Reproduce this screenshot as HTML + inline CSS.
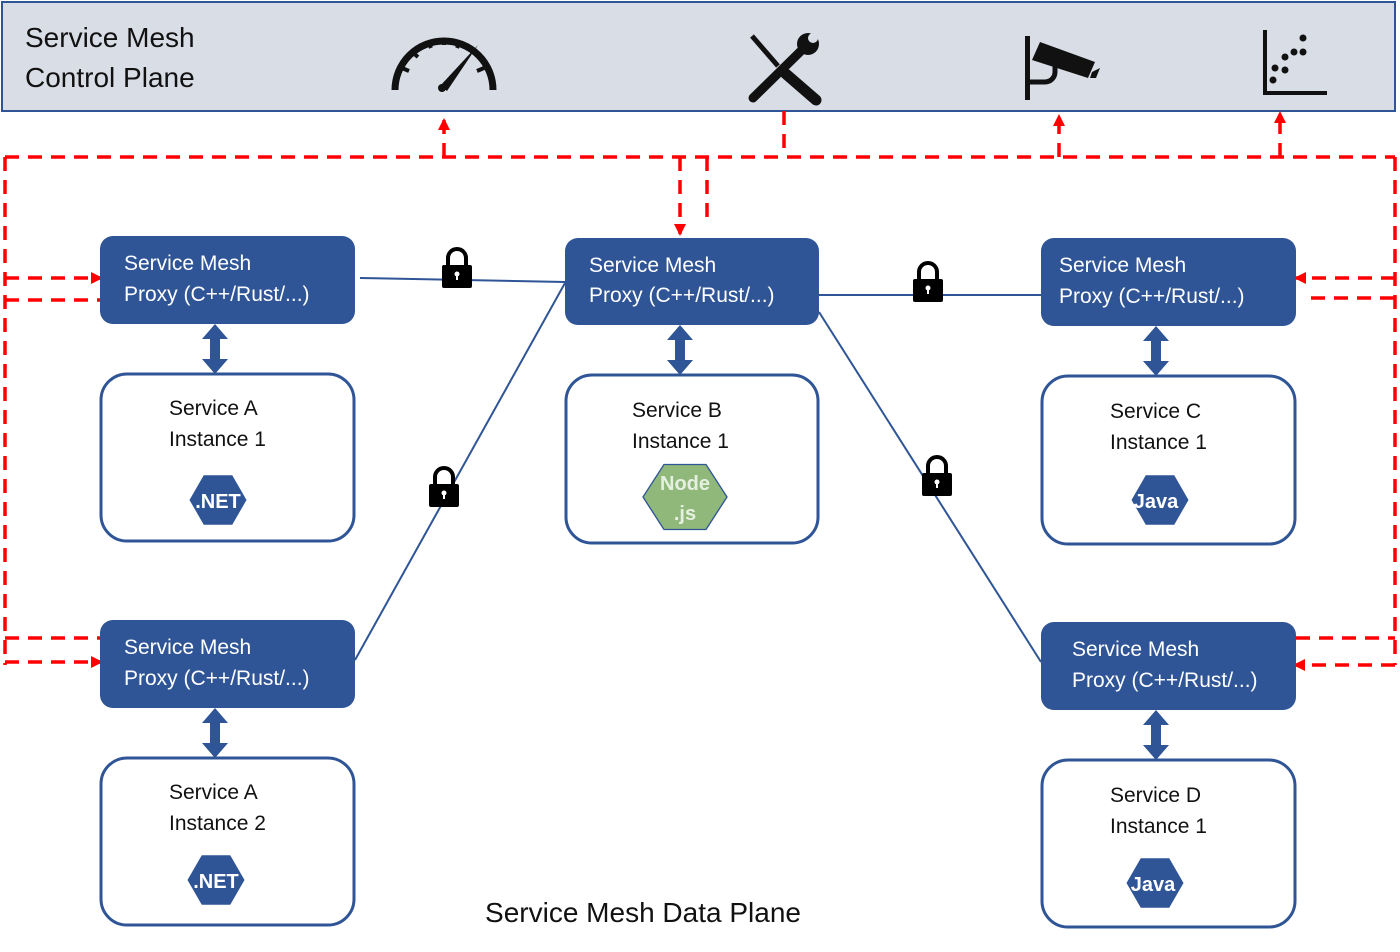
<!DOCTYPE html>
<html><head><meta charset="utf-8"><style>
body{margin:0;background:#fff}
svg{display:block;font-family:"Liberation Sans","DejaVu Sans",sans-serif}
</style></head><body>
<svg width="1400" height="952" viewBox="0 0 1400 952" xmlns="http://www.w3.org/2000/svg">
<defs>
<marker id="ah" viewBox="0 0 12 12" markerWidth="12" markerHeight="12" refX="10" refY="6" orient="auto" markerUnits="userSpaceOnUse"><path d="M0,0 L12,6 L0,12 z" fill="#ff0000"/></marker>
<g id="lock"><path d="M-9,-2 V-10 A9,9 0 0 1 9,-10 V-2" fill="none" stroke="#000" stroke-width="4"/><rect x="-15" y="-3" width="30" height="23" rx="2" fill="#000"/><circle cx="0" cy="6" r="2.5" fill="#fff"/><rect x="-1" y="6" width="2" height="6" fill="#fff"/></g>
<g id="darr"><rect x="-5" y="12" width="10" height="26" fill="#2f5597"/><path d="M-13,15 L0,0 L13,15 z M-13,35 L0,50 L13,35 z" fill="#2f5597"/></g>
<path id="hex" d="M-15,-26 L15,-26 L30,0 L15,26 L-15,26 L-30,0 z"/>
</defs>
<rect x="2" y="2" width="1393" height="109" fill="#d9dde6" stroke="#2f5597" stroke-width="2"/>
<text x="25" y="47" font-size="28" fill="#111">Service Mesh</text>
<text x="25" y="87" font-size="28" fill="#111">Control Plane</text>
<!-- gauge -->
<path d="M395,90 A48,48 0 0 1 493,90" fill="none" stroke="#111" stroke-width="7"/>
<g stroke="#111" stroke-width="4">
<path d="M402,68 L409,71"/><path d="M412,52 L418,57"/><path d="M428,41 L431,48"/><path d="M444,38 L444,45"/><path d="M460,41 L457,48"/><path d="M484,68 L477,71"/>
</g>
<path d="M440,86 L478,45 L447,91 Z" fill="#111"/><circle cx="442" cy="88" r="4" fill="#111"/>
<!-- tools -->
<path d="M752,36 L778,66" stroke="#111" stroke-width="5"/>
<path d="M786,74 L816,100" stroke="#111" stroke-width="11" stroke-linecap="round"/>
<path d="M753,98 L808,44" stroke="#111" stroke-width="9" stroke-linecap="round"/>
<circle cx="808" cy="44" r="11" fill="#111"/><circle cx="813" cy="38" r="5" fill="#d9dde6"/>
<!-- camera -->
<rect x="1025" y="36" width="5" height="64" fill="#111"/>
<path d="M1030,82 H1045 A10,10 0 0 0 1055,72 V66" fill="none" stroke="#111" stroke-width="5"/>
<path d="M1040,42 L1095,62 L1088,78 L1032,60 Z" fill="#111"/><path d="M1092,72 L1100,68 L1096,78 L1090,78Z" fill="#111"/>
<!-- scatter -->
<path d="M1265,30 V93 H1327" fill="none" stroke="#111" stroke-width="4"/>
<g fill="#111"><circle cx="1273" cy="80" r="3.5"/><circle cx="1275" cy="68" r="3.5"/><circle cx="1285" cy="70" r="3.5"/><circle cx="1285" cy="57" r="3.5"/><circle cx="1294" cy="52" r="3.5"/><circle cx="1303" cy="52" r="3.5"/><circle cx="1303" cy="38" r="3.5"/></g>
<!-- red dashed -->
<g stroke="#ff0000" stroke-width="3.5" stroke-dasharray="14,9" fill="none">
<path d="M5,157 H1395"/>
<path d="M5,157 V665"/><path d="M1395,157 V665"/>
<path d="M444,157 V120" marker-end="url(#ah)"/>
<path d="M1059,157 V116" marker-end="url(#ah)"/>
<path d="M1280,157 V113" marker-end="url(#ah)"/>
<path d="M784,111 V157"/>
<path d="M680,157 V234" marker-end="url(#ah)"/>
<path d="M707,157 V226"/>
<path d="M5,278 H101" marker-end="url(#ah)"/>
<path d="M5,300 H100"/>
<path d="M5,638 H100"/>
<path d="M5,662 H101" marker-end="url(#ah)"/>
<path d="M1395,278 H1296" marker-end="url(#ah)"/>
<path d="M1311,298 H1395"/>
<path d="M1296,638 H1395"/>
<path d="M1395,665 H1295" marker-end="url(#ah)"/>
</g>
<!-- solid links -->
<g stroke="#2f5597" stroke-width="2" fill="none">
<path d="M360,278 L565,282"/><path d="M819,295 H1041"/>
<path d="M355,660 L565,283"/><path d="M819,312 L1041,662"/>
</g>
<use href="#lock" x="457" y="268"/><use href="#lock" x="928" y="282"/>
<use href="#lock" x="444" y="487"/><use href="#lock" x="937" y="476"/>
<!-- proxies -->
<g fill="#2f5597">
<rect x="100" y="236" width="255" height="88" rx="13"/>
<rect x="565" y="238" width="254" height="87" rx="13"/>
<rect x="1041" y="238" width="255" height="88" rx="13"/>
<rect x="100" y="620" width="255" height="88" rx="13"/>
<rect x="1041" y="622" width="255" height="88" rx="13"/>
</g>
<g fill="#fff" font-size="21">
<text x="124" y="270">Service Mesh</text><text x="124" y="301">Proxy (C++/Rust/...)</text>
<text x="589" y="272">Service Mesh</text><text x="589" y="302">Proxy (C++/Rust/...)</text>
<text x="1059" y="272">Service Mesh</text><text x="1059" y="303">Proxy (C++/Rust/...)</text>
<text x="124" y="654">Service Mesh</text><text x="124" y="685">Proxy (C++/Rust/...)</text>
<text x="1072" y="656">Service Mesh</text><text x="1072" y="687">Proxy (C++/Rust/...)</text>
</g>
<use href="#darr" x="215" y="324"/><use href="#darr" x="680" y="325"/><use href="#darr" x="1156" y="326"/>
<use href="#darr" x="215" y="708"/><use href="#darr" x="1156" y="710"/>
<!-- services -->
<g fill="#fff" stroke="#2f5597" stroke-width="3">
<rect x="101" y="374" width="253" height="167" rx="26"/>
<rect x="566" y="375" width="252" height="168" rx="26"/>
<rect x="1042" y="376" width="253" height="168" rx="26"/>
<rect x="101" y="758" width="253" height="167" rx="26"/>
<rect x="1042" y="760" width="253" height="167" rx="26"/>
</g>
<g fill="#111" font-size="21">
<text x="169" y="415">Service A</text><text x="169" y="446">Instance 1</text>
<text x="632" y="417">Service B</text><text x="632" y="448">Instance 1</text>
<text x="1110" y="418">Service C</text><text x="1110" y="449">Instance 1</text>
<text x="169" y="799">Service A</text><text x="169" y="830">Instance 2</text>
<text x="1110" y="802">Service D</text><text x="1110" y="833">Instance 1</text>
</g>
<use href="#hex" fill="#2f5597" transform="translate(218,500) scale(0.95)"/>
<use href="#hex" fill="#2f5597" transform="translate(216,880) scale(0.95)"/>
<use href="#hex" fill="#2f5597" transform="translate(1160,500) scale(0.95)"/>
<use href="#hex" fill="#2f5597" transform="translate(1155,883) scale(0.95)"/>
<use href="#hex" fill="#8fb87a" stroke="#2f5597" transform="translate(685,497) scale(1.4,1.25)"/>
<g fill="#fff" font-size="20" font-weight="bold" text-anchor="middle">
<text x="218" y="508">.NET</text><text x="216" y="888">.NET</text>
<text x="1156" y="508">Java</text><text x="1153" y="891">Java</text>
</g>
<g fill="#e6f0e0" font-size="20" font-weight="bold" text-anchor="middle">
<text x="685" y="490">Node</text><text x="685" y="520">.js</text>
</g>
<text x="643" y="922" font-size="28" fill="#111" text-anchor="middle">Service Mesh Data Plane</text>
</svg>
</body></html>
